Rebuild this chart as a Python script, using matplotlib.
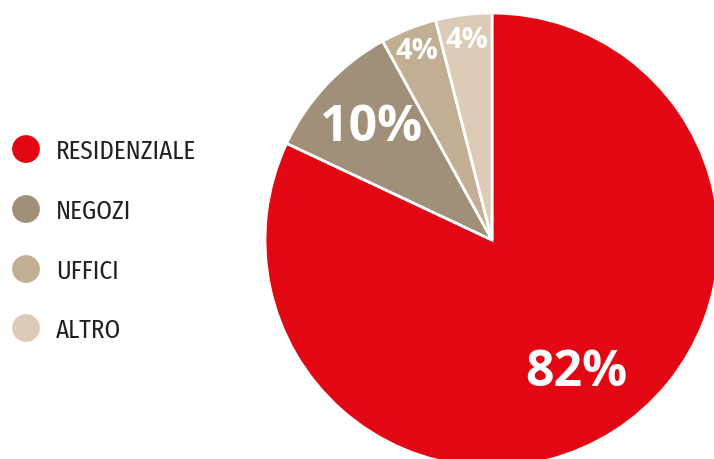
import matplotlib
matplotlib.use('Agg')
import matplotlib.pyplot as plt
import numpy as np

categories = ['RESIDENZIALE', 'NEGOZI', 'UFFICI', 'ALTRO']
shares = [82, 10, 4, 4]
colors = ['#E30613', '#A09079', '#C2AE92', '#DCCBB6']
label_dist = [0.69, 0.73, 0.90, 0.89]
label_size = [36, 36, 21, 21]

W, H = 714, 460
fig = plt.figure(figsize=(W / 100, H / 100), dpi=100)
ax = fig.add_axes([0, 0, 1, 1])

cx, cy, r = 492, H - 241, 227
wedges, _ = ax.pie(shares, colors=colors, startangle=90, counterclock=False,
                   center=(cx, cy), radius=r, frame=True,
                   wedgeprops=dict(edgecolor='white', linewidth=2.0))
ax.set_xlim(0, W)
ax.set_ylim(0, H)
ax.set_aspect('equal')
ax.axis('off')

# percentage labels inside each slice
for w, v, d, fs in zip(wedges, shares, label_dist, label_size):
    mid = np.deg2rad((w.theta1 + w.theta2) / 2)
    x = cx + d * r * np.cos(mid)
    y = cy + d * r * np.sin(mid)
    ax.text(x, y, f'{v}%', ha='center', va='center', color='white',
            fontsize=fs, fontweight='bold', family=['Open Sans', 'DejaVu Sans'])

# legend on the left
ys = [H - 150, H - 210, H - 270, H - 329]
for name, c, y in zip(categories, colors, ys):
    ax.scatter([26], [y], s=400, color=c, edgecolors='none', zorder=3)
    ax.text(56, y - 2, name, ha='left', va='center', color='#231F20',
            fontsize=18, family=['Fira Sans Condensed', 'DejaVu Sans'])

fig.savefig('out.png', dpi=100)
